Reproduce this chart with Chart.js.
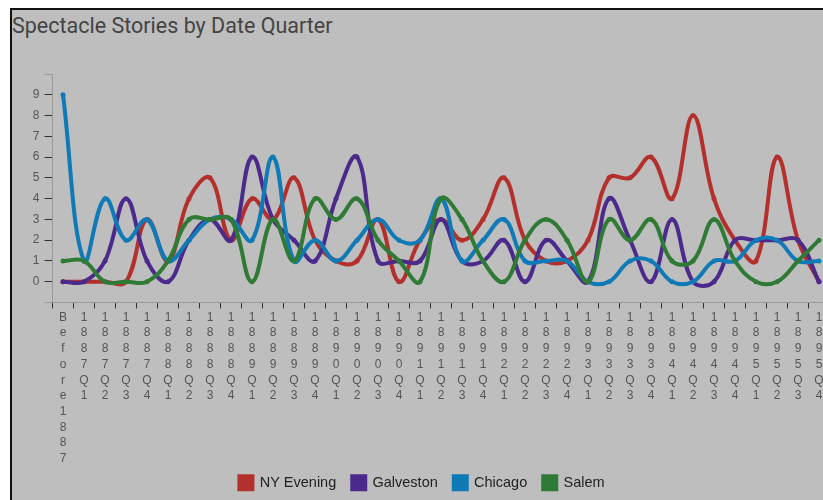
<!DOCTYPE html>
<html>
<head>
<meta charset="utf-8">
<script src="https://cdn.jsdelivr.net/npm/chart.js"></script>
<style>
  html, body { margin: 0; padding: 0; background: #fff; overflow: hidden; }
  #frame {
    position: absolute; left: 10px; top: 8px;
    width: 900px; height: 560px;
    background: #bebebe;
    border-left: 2px solid #111; border-top: 2px solid #111;
  }
  #title {
    position: absolute; left: 0px; top: 3px;
    font-family: Roboto, sans-serif; font-size: 21.5px; color: #444;
    white-space: nowrap;
  }
  #wrap { position: absolute; left: 0; top: 0; width: 820px; height: 498px; }
</style>
</head>
<body>
<div id="frame">
  <div id="title">Spectacle Stories by Date Quarter</div>
  <div id="wrap"><canvas id="chart" width="820" height="498"></canvas></div>
</div>
<script>
// Categories (quarters)
const categories = [
  'Before 1887',
  '1887Q1', '1887Q2', '1887Q3', '1887Q4',
  '1888Q1', '1888Q2', '1888Q3', '1888Q4',
  '1889Q1', '1889Q2', '1889Q3', '1889Q4',
  '1890Q1', '1890Q2', '1890Q3', '1890Q4',
  '1891Q1', '1891Q2', '1891Q3', '1891Q4',
  '1892Q1', '1892Q2', '1892Q3', '1892Q4',
  '1893Q1', '1893Q2', '1893Q3', '1893Q4',
  '1894Q1', '1894Q2', '1894Q3', '1894Q4',
  '1895Q1', '1895Q2', '1895Q3', '1895Q4'
];

// Stories per quarter
const nyEvening = [0, 0, 0, 0, 3, 1, 4, 5, 2, 4, 3, 5, 2, 1, 1, 3, 0, 2, 3, 2, 3, 5, 2, 1, 1, 2, 5, 5, 6, 4, 8, 4, 2, 1, 6, 2, 0];
const galveston = [0, 0, 1, 4, 1, 0, 2, 3, 2, 6, 3, 2, 1, 4, 6, 1, 1, 1, 3, 1, 1, 2, 0, 2, 1, 0, 4, 2, 0, 3, 0, 0, 2, 2, 2, 2, 0];
const chicago   = [9, 1, 4, 2, 3, 1, 2, 3, 3, 2, 6, 1, 2, 1, 2, 3, 2, 2, 4, 1, 2, 3, 1, 1, 1, 0, 0, 1, 1, 0, 0, 1, 1, 2, 2, 1, 1];
const salem     = [1, 1, 0, 0, 0, 1, 3, 3, 3, 0, 3, 1, 4, 3, 4, 2, 1, 0, 4, 3, 1, 0, 2, 3, 2, 0, 3, 2, 3, 1, 1, 3, 1, 0, 0, 1, 2];

const seriesNames = ['NY Evening', 'Galveston', 'Chicago', 'Salem'];
const seriesColors = ['#b3302c', '#4b2a8c', '#0f7ab6', '#2f7b36'];

// y axis ticks that get a label
const yTickLabels = [0, 1, 2, 3, 4, 5, 6, 7, 8, 9];

function makeDataset(i, values) {
    return {
        label: seriesNames[i],
        data: values,
        borderColor: seriesColors[i],
        backgroundColor: seriesColors[i],
        borderWidth: 4,
        pointRadius: 2.5,
        pointHoverRadius: 2.5,
        pointBorderWidth: 0,
        tension: 0.4,
        fill: false,
        order: 3 - i
    };
}

// the stacked x labels run close to the legend, so lift the legend a little
const legendNudge = {
    id: 'legendNudge',
    afterLayout(chart) {
        chart.legend.top -= 8;
        chart.legend.bottom -= 8;
    }
};

const ctx = document.getElementById('chart');
new Chart(ctx, {
    type: 'line',
    data: {
        // one character per line, like the stacked labels in the picture
        labels: categories.map(c => c.replace(/ /g, '').split('')),
        datasets: [
            makeDataset(0, nyEvening),
            makeDataset(1, galveston),
            makeDataset(2, chicago),
            makeDataset(3, salem)
        ]
    },
    plugins: [legendNudge],
    options: {
        responsive: false,
        animation: false,
        layout: { padding: { top: 64, left: 0, right: 0, bottom: 0 } },
        plugins: {
            legend: {
                position: 'bottom',
                labels: {
                    boxWidth: 13,
                    boxHeight: 13,
                    padding: 16,
                    color: '#222',
                    font: { family: 'Liberation Sans, Arial, sans-serif', size: 14.5 },
                    sort: (a, b) => a.datasetIndex - b.datasetIndex
                }
            },
            tooltip: { enabled: false }
        },
        scales: {
            x: {
                offset: true,
                afterFit: s => { s.height = 165; },
                border: { color: '#9a9a9a' },
                grid: {
                    offset: true,
                    drawOnChartArea: false,
                    tickLength: 6,
                    tickColor: '#333'
                },
                ticks: {
                    autoSkip: false,
                    maxRotation: 0,
                    padding: 1,
                    color: '#555',
                    font: { family: 'Liberation Sans, Arial, sans-serif', size: 12, lineHeight: 1.31 }
                }
            },
            y: {
                min: -1,
                max: 10,
                afterFit: s => { s.width = 40.5; },
                border: { color: '#9a9a9a' },
                grid: {
                    drawOnChartArea: false,
                    tickLength: 8,
                    tickColor: c => yTickLabels.includes(c.tick.value) ? '#333' : '#9a9a9a'
                },
                ticks: {
                    stepSize: 1,
                    padding: 5,
                    color: '#555',
                    font: { family: 'Liberation Sans, Arial, sans-serif', size: 12 },
                    callback: v => yTickLabels.includes(v) ? String(v) : ''
                }
            }
        }
    }
});
</script>
</body>
</html>
